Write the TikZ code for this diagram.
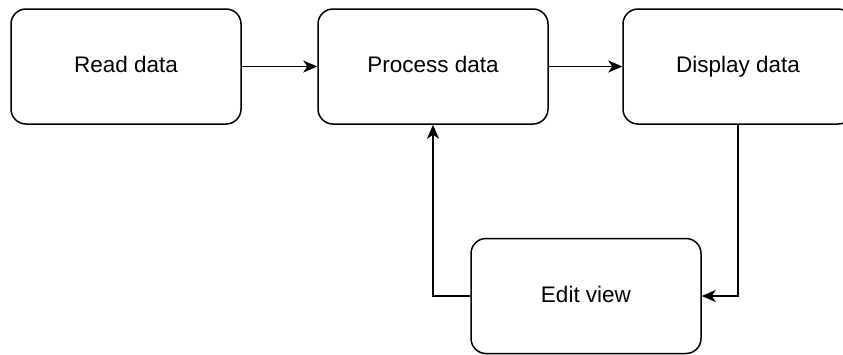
\documentclass[tikz,border=0pt]{standalone}
\usepackage{fontspec}
\setmainfont{Liberation Sans}
\usetikzlibrary{arrows.meta}
\begin{document}
\begin{tikzpicture}[x=1pt,y=-1pt,
  stagebox/.style={draw=black, line width=1.5pt, rounded corners=15pt,
    minimum width=230pt, minimum height=115pt, inner sep=0pt,
    text height=16pt, text depth=3.6pt,
    font=\fontsize{22.5}{27}\selectfont},
  flow/.style={draw=black, line width=1.5pt,
    -{Stealth[length=14pt,width=12pt,inset=4pt]}}]
  \useasboundingbox (0,0) rectangle (843,354);
  \node[stagebox] (read) at (126,66.5) {Read data};
  \node[stagebox] (process) at (433,66.5) {Process data};
  \node[stagebox] (display) at (738,66.5) {Display data};
  \node[stagebox] (edit) at (586,296) {Edit view};
  \draw[flow] (read.east) -- (process.west);
  \draw[flow] (process.east) -- (display.west);
  \draw[flow] (display.south) |- (edit.east);
  \draw[flow] (edit.west) -| (process.south);
\end{tikzpicture}
\end{document}
